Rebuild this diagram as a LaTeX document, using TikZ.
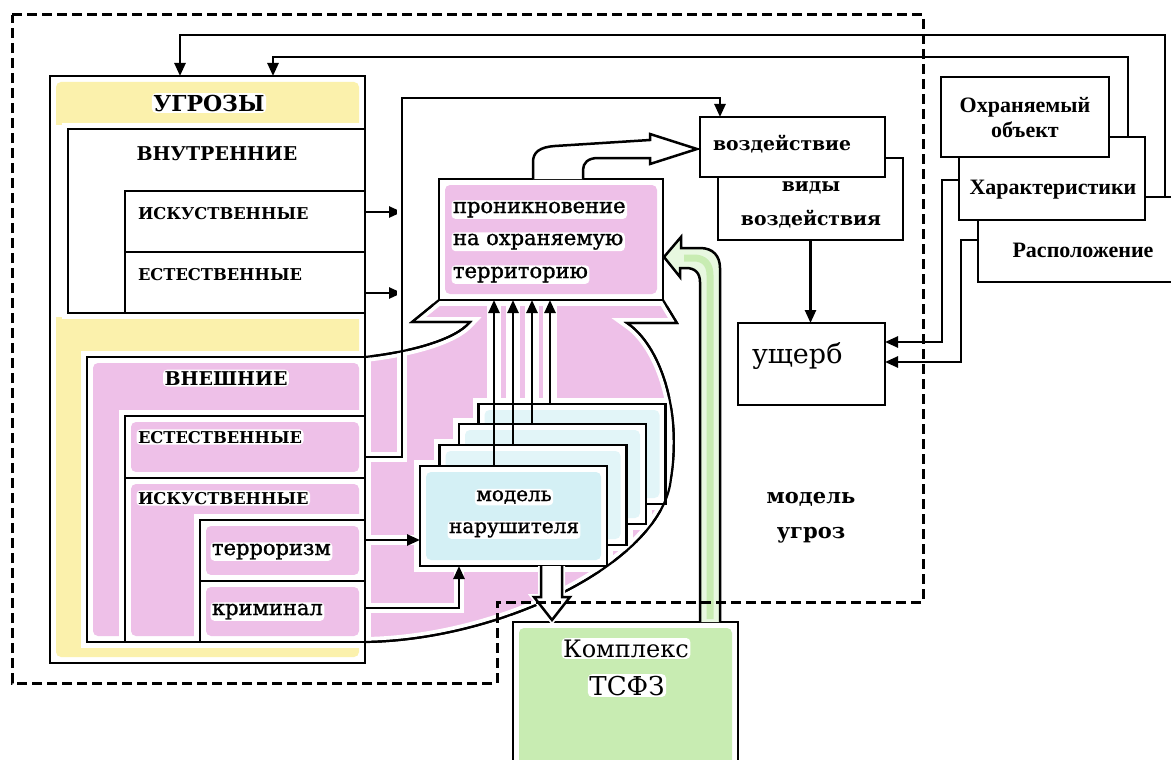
\documentclass[tikz,border=0pt]{standalone}
\usepackage{fontspec}
\usetikzlibrary{arrows.meta,calc}
\newfontfamily\dvserif{DejaVu Serif}
\newfontfamily\dvserifm{DejaVu Serif}[FakeBold=1.2]
\newfontfamily\lbserif{Liberation Serif}
\newcommand\fontDB[1]{\dvserif\bfseries\fontsize{#1}{#1}\selectfont}
\newcommand\fontDR[1]{\dvserifm\fontsize{#1}{#1}\selectfont}
\newcommand\fontDN[1]{\dvserif\fontsize{#1}{#1}\selectfont}
\newcommand\fontTB[1]{\lbserif\bfseries\fontsize{#1}{#1}\selectfont}
\definecolor{ylw}{RGB}{251,241,172}
\definecolor{pnk}{RGB}{238,192,232}
\definecolor{cyn}{RGB}{212,240,245}
\definecolor{cynlt}{RGB}{226,245,248}
\definecolor{grn}{RGB}{200,236,178}
\definecolor{grnlt}{RGB}{232,248,224}
\begin{document}
\begin{tikzpicture}[x=1pt,y=-1pt,
  bx/.style={draw, line width=2.9pt, fill=white, rectangle, inner sep=0pt, outer sep=0pt, preaction={draw=white, line width=12pt}},
  bxn/.style={draw, line width=2.9pt, fill=white, rectangle, inner sep=0pt, outer sep=0pt},
  tint/.style={path picture={\fill[#1, rounded corners=5pt] ([shift={(6pt,-6pt)}]path picture bounding box.north west) rectangle ([shift={(-6pt,6pt)}]path picture bounding box.south east);}},
  ln/.style={line width=2.5pt},
  arr/.style={ln, -{Triangle[length=13pt,width=11pt]}},
  gap/.style={preaction={draw=white, line width=10pt, arrows=-, shorten <=3pt, shorten >=3pt}},
  outl/.style={line width=2.2pt},
  lobeL/.style={insert path={(365,357) .. controls (410,352) and (455,340) .. (470,322) -- (412,322) -- (439,300)}},
  lobeR/.style={insert path={(663,300) -- (677,323) -- (627,323) .. controls (660,345) and (682,410) .. (671,478) .. controls (664,560) and (505,640) .. (365,642)}},
  lb/.style={inner sep=0pt, outer sep=0pt},
  hl/.style={fill=white, rounded corners=4pt, inner sep=1.5pt, outer sep=0pt},
  bnd/.style={line width=3pt, dash pattern=on 10pt off 5pt},
]
\useasboundingbox (0,0) rectangle (1171,760);
\clip (0,0) rectangle (1171,760);

% pink callout below the penetration box
\fill[pnk] (365,357) .. controls (410,352) and (455,340) .. (470,322) -- (412,322) -- (439,300) -- (663,300) -- (677,323) -- (627,323) .. controls (660,345) and (682,410) .. (671,478) .. controls (664,560) and (505,640) .. (365,642) -- cycle;
\draw[outl, preaction={draw=white, line width=10pt}] [lobeL];
\draw[outl, preaction={draw=white, line width=10pt}] [lobeR];

% threats block
\node[bx, tint=ylw, minimum width=315pt, minimum height=587pt] (ugr) at (207.5,369.5) {};
\fill[white] (54,125) rectangle (68,317);
\node[bx, minimum width=297pt, minimum height=184pt] (vnut) at (216.5,221) {};
\node[bx, minimum width=240pt, minimum height=61pt] (isk1) at (245,221.5) {};
\node[bx, minimum width=240pt, minimum height=61pt] (est1) at (245,282.5) {};
\node[bx, tint=pnk, minimum width=278pt, minimum height=285pt] (vnesh) at (226,499.5) {};
\node[bx, tint=pnk, minimum width=240pt, minimum height=62pt] (est2) at (245,447) {};
\node[bx, tint=pnk, minimum width=240pt, minimum height=164pt] (isk2) at (245,560) {};
\node[bx, tint=pnk, minimum width=165pt, minimum height=61pt] (terr) at (282.5,550.5) {};
\node[bx, tint=pnk, minimum width=165pt, minimum height=61pt] (krim) at (282.5,611.5) {};
\foreach \n in {ugr,vnut,isk1,est1,vnesh,est2,isk2,terr,krim}
  \draw[line width=2.9pt] (\n.north west) rectangle (\n.south east);

% penetration box
\node[bx, tint=pnk, minimum width=224pt, minimum height=121pt] (pron) at (551,239.5) {};

% lanes of the four upward arrows
\coordinate (a1) at (494,404);
\coordinate (a2) at (513,404);
\coordinate (a3) at (532,404);
\coordinate (a4) at (550,404);
\foreach \a in {a1,a2,a3,a4}
  \draw[white, line width=14pt] ([yshift=-3pt]pron.south -| \a) -- (\a);

% stack of intruder models
\foreach \cx/\cy in {572/454,552.5/474,533/495,513.5/516}
  \filldraw[white, line width=12pt] (\cx-93.5,\cy-50) rectangle (\cx+93.5,\cy+50);
\node[bxn, tint=cynlt, minimum width=187pt, minimum height=100pt] (m4) at (572,454) {};
\node[bxn, tint=cynlt, minimum width=187pt, minimum height=100pt] (m3) at (552.5,474) {};
\node[bxn, tint=cynlt, minimum width=187pt, minimum height=100pt] (m2) at (533,495) {};
\node[bxn, tint=cyn, minimum width=187pt, minimum height=100pt] (mn) at (513.5,516) {};

% impact, damage and object boxes
\node[bxn, minimum width=185pt, minimum height=82pt] (vidy) at (810.5,199) {};
\node[lb, font=\fontDB{18.8}, anchor=base] (tVid1) at (811,191) {виды};
\node[lb, font=\fontDB{18.8}, anchor=base] (tVid2) at (811,225) {воздействия};
\node[bxn, minimum width=185pt, minimum height=60pt] (vozd) at (792.5,147) {};
\node[bxn, minimum width=147pt, minimum height=82pt] (ush) at (811.5,364) {};
\node[bxn, minimum width=207pt, minimum height=85pt] (rasp) at (1081.5,239.5) {};
\node[bxn, minimum width=186pt, minimum height=83pt] (har) at (1052,178.5) {};
\node[bxn, minimum width=168pt, minimum height=80pt] (ox) at (1025,117) {};
\node[bx, tint=grn, minimum width=225pt, minimum height=158pt] (ksfz) at (625.5,701) {};

% connectors from the threat classes
\coordinate (j1) at (402,212);
\coordinate (j2) at (402,293);
\coordinate (jb) at (402,457);
\coordinate (jt) at (402,98);
\coordinate (jm) at (420,540);
\coordinate (jk) at (459,608);
\draw[arr] (isk1.east |- j1) -- (j1);
\draw[arr] (est1.east |- j2) -- (j2);
\draw[arr, gap] (est2.east |- jb) -- (jb) -- (jt) -| ($(vozd.north west)+(20,0)$);
\draw[arr, gap] (terr.east |- jm) -- (mn.west |- jm);
\draw[arr, gap] (krim.east |- jk) -| (mn.south -| jk);
\draw[arr] (mn.north -| a1) -- (pron.south -| a1);
\draw[arr] (m2.north -| a2) -- (pron.south -| a2);
\draw[arr] (m3.north -| a3) -- (pron.south -| a3);
\draw[arr] (m4.north -| a4) -- (pron.south -| a4);

% callout outline on top
\draw[outl] [lobeL];
\draw[outl] [lobeR];

% block arrows
\filldraw[fill=white, ln, preaction={draw=white, line width=6pt}] (541,566) -- (541,597) -- (534,597) -- (552,620) -- (570,597) -- (562,597) -- (562,566);
\filldraw[fill=grnlt, ln] (700,622) -- (700,282) .. controls (700,273) and (695,268) .. (686,268) -- (680,268) -- (680,277) -- (664,257) -- (681,237) -- (681,248) -- (700,248) .. controls (713,248) and (720,256) .. (720,268) -- (720,622);
\draw[grn, line width=7pt] (710,619) -- (710,275) .. controls (710,264) and (704,258) .. (694,258) -- (684,258);
\filldraw[fill=white, ln] (533,179) -- (533,162) .. controls (533,152) and (540,147) .. (555,146) -- (650,140) -- (650,134) -- (697,149) -- (650,164) -- (650,158) -- (598,158) .. controls (588,158) and (583,163) .. (583,170) -- (583,179);

% damage and feedback connectors
\coordinate (r1) at (942,180);
\coordinate (r2) at (961,240);
\coordinate (u1) at (885,342);
\coordinate (u2) at (885,362);
\coordinate (lA) at (1165,35);
\coordinate (tA) at (180,76);
\coordinate (lB) at (1128,57);
\coordinate (tB) at (273,76);
\draw[arr] (vidy.south) -- (vidy.south |- ush.north);
\draw[arr] (har.west |- r1) -- (r1) |- (ush.east |- u1);
\draw[arr] (rasp.west |- r2) -- (r2) |- (ush.east |- u2);
\draw[arr] (rasp.north -| lA) -- (lA) -| (ugr.north -| tA);
\draw[arr] (har.north -| lB) -- (lB) -| (ugr.north -| tB);

% labels
\node[hl, font=\fontDB{22}, anchor=base] (tUgr) at (209,111) {УГРОЗЫ};
\node[lb, font=\fontDB{19}, anchor=base] (tVnut) at (217,160) {ВНУТРЕННИЕ};
\node[lb, font=\fontDB{16.3}, anchor=base west] (tIsk1) at (138,219) {ИСКУСТВЕННЫЕ};
\node[lb, font=\fontDB{16.3}, anchor=base west] (tEst1) at (138,280) {ЕСТЕСТВЕННЫЕ};
\node[hl, font=\fontDB{19}, anchor=base] (tVnesh) at (226,385) {ВНЕШНИЕ};
\node[hl, font=\fontDB{16.3}, anchor=base west] (tEst2) at (136.5,443) {ЕСТЕСТВЕННЫЕ};
\node[hl, font=\fontDB{16.3}, anchor=base west] (tIsk2) at (136.5,504) {ИСКУСТВЕННЫЕ};
\node[hl, font=\fontDR{21}, anchor=base west] (tTerr) at (210.5,555) {терроризм};
\node[hl, font=\fontDR{21}, anchor=base west] (tKrim) at (210.5,615) {криминал};
\node[hl, font=\fontDR{21}, anchor=base west] (tPr1) at (451.5,213) {проникновение};
\node[hl, font=\fontDR{21}, anchor=base west] (tPr2) at (451.5,245) {на охраняемую};
\node[hl, font=\fontDR{21}, anchor=base west] (tPr3) at (451.5,278) {территорию};
\node[hl, font=\fontDR{20}, anchor=base] (tMod1) at (514,501) {модель};
\node[hl, font=\fontDR{20}, anchor=base] (tMod2) at (514,533) {нарушителя};
\node[lb, font=\fontDB{18.8}, anchor=base west] (tVozd) at (713,150) {воздействие};
\node[lb, font=\fontDN{27}, anchor=base west] (tUsh) at (752,363) {ущерб};
\node[hl, font=\fontDN{24}, anchor=base] (tK1) at (626,657) {Комплекс};
\node[hl, font=\fontDN{26}, anchor=base] (tK2) at (627,695) {ТСФЗ};
\node[lb, font=\fontDB{21}, anchor=base] (tMu1) at (811,503) {модель};
\node[lb, font=\fontDB{21}, anchor=base] (tMu2) at (811,538) {угроз};
\node[lb, font=\fontTB{22}, anchor=base] (tOx1) at (1025,113) {Охраняемый};
\node[lb, font=\fontTB{22}, anchor=base] (tOx2) at (1025,138) {объект};
\node[lb, font=\fontTB{22}, anchor=base] (tHar) at (1053,194) {Характеристики};
\node[lb, font=\fontTB{22}, anchor=base] (tRas) at (1083,257) {Расположение};

% boundary of the threat model
\draw[bnd] (12,15) -- (923,15) -- (923,602) -- (497,602) -- (497,683) -- (12,683) -- cycle;
\end{tikzpicture}
\end{document}
